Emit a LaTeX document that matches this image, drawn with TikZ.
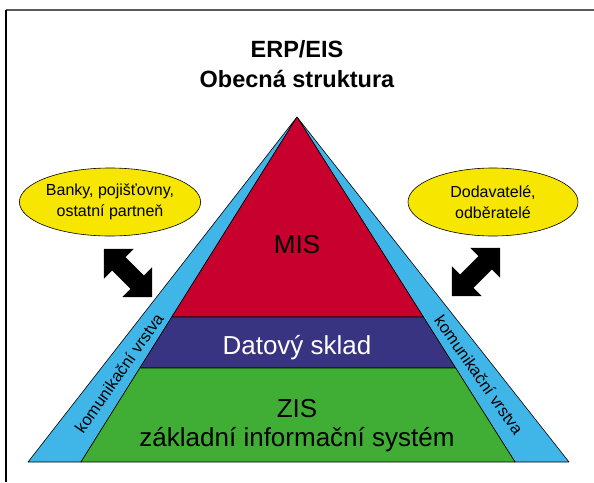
\documentclass[tikz,border=0pt]{standalone}
\usepackage{fontspec}
\setmainfont{Liberation Sans}
\usetikzlibrary{calc,shapes.geometric}
\definecolor{misred}{RGB}{200,0,45}
\definecolor{dsblue}{RGB}{57,52,130}
\definecolor{zisgreen}{RGB}{64,174,52}
\definecolor{commblue}{RGB}{64,182,232}
\definecolor{elyellow}{RGB}{246,230,0}
\begin{document}
\begin{tikzpicture}[x=1pt,y=-1pt,
  layer/.style={draw=black, line width=0.6pt, line join=round},
  band/.style={layer, fill=commblue},
  ptext/.style={font=\fontsize{26}{30}\selectfont, inner sep=0pt, anchor=base},
  ctext/.style={font=\fontsize{16.5}{18}\selectfont, inner sep=0pt},
  titletext/.style={font=\bfseries\fontsize{23.5}{30}\selectfont, inner sep=0pt, anchor=base},
  partner/.style={ellipse, draw=black, line width=0.6pt, fill=elyellow,
    minimum width=170pt, minimum height=68pt, align=center,
    font=\fontsize{16}{21}\selectfont, inner sep=0pt},
  bigarrow/.style={fill=black}]
\useasboundingbox (0,0) rectangle (594,482);
\fill[white] (0,0) rectangle (594,482);
% frame
\draw[gray!70!black, line width=2pt] (6,10) -- (594,10);
\draw[black, line width=1.4pt] (6,10) -- (6,482);
% title
\node[titletext] (t1) at (297,57) {ERP/EIS};
\node[titletext] (t2) at (297,87) {Obecná struktura};
% pyramid geometry
\coordinate (apex) at (297,117);
\coordinate (obl) at (28,462);
\coordinate (ibl) at (81,462);
\coordinate (ibr) at (515,462);
\coordinate (obr) at (569,462);
\coordinate (ml) at ($(apex)!0.5797!(ibl)$);
\coordinate (mr) at ($(apex)!0.5797!(ibr)$);
\coordinate (gl) at ($(apex)!0.7275!(ibl)$);
\coordinate (gr) at ($(apex)!0.7275!(ibr)$);
\draw[band] (obl) -- (apex) -- (ibl) -- cycle;
\draw[band] (obr) -- (apex) -- (ibr) -- cycle;
\draw[layer, fill=misred] (apex) -- (mr) -- (ml) -- cycle;
\draw[layer, fill=dsblue] (ml) -- (mr) -- (gr) -- (gl) -- cycle;
\draw[layer, fill=zisgreen] (gl) -- (gr) -- (ibr) -- (ibl) -- cycle;
% layer texts
\node[ptext] (mis) at (297,253) {MIS};
\node[ptext, text=white] (dw) at (297,354) {Datový sklad};
\node[ptext] (zis) at (297,417) {ZIS};
\node[ptext] (zisfull) at (297,446) {základní informační systém};
% communication layer labels
\node[ctext, rotate=55] (commL) at (119,373) {komunikační vrstva};
\node[ctext, rotate=-55] (commR) at (479,375) {komunikační vrstva};
% partners
\node[partner] (banky) at (110,202) {Banky, pojišťovny,\\ostatní partneň};
\node[partner] (dodav) at (493,202) {Dodavatelé,\\odběratelé};
% double arrows
\begin{scope}[shift={(128,273)}, x={(0.7071pt,-0.7071pt)}, y={(0.7071pt,0.7071pt)}]
  \fill[bigarrow] (-34,0) -- (-13,21) -- (-13,9.5) -- (13,9.5) -- (13,21) -- (34,0)
    -- (13,-21) -- (13,-9.5) -- (-13,-9.5) -- (-13,-21) -- cycle;
\end{scope}
\begin{scope}[shift={(476,272)}, x={(0.7071pt,0.7071pt)}, y={(-0.7071pt,0.7071pt)}]
  \fill[bigarrow] (-34,0) -- (-13,21) -- (-13,9.5) -- (13,9.5) -- (13,21) -- (34,0)
    -- (13,-21) -- (13,-9.5) -- (-13,-9.5) -- (-13,-21) -- cycle;
\end{scope}
\end{tikzpicture}
\end{document}
